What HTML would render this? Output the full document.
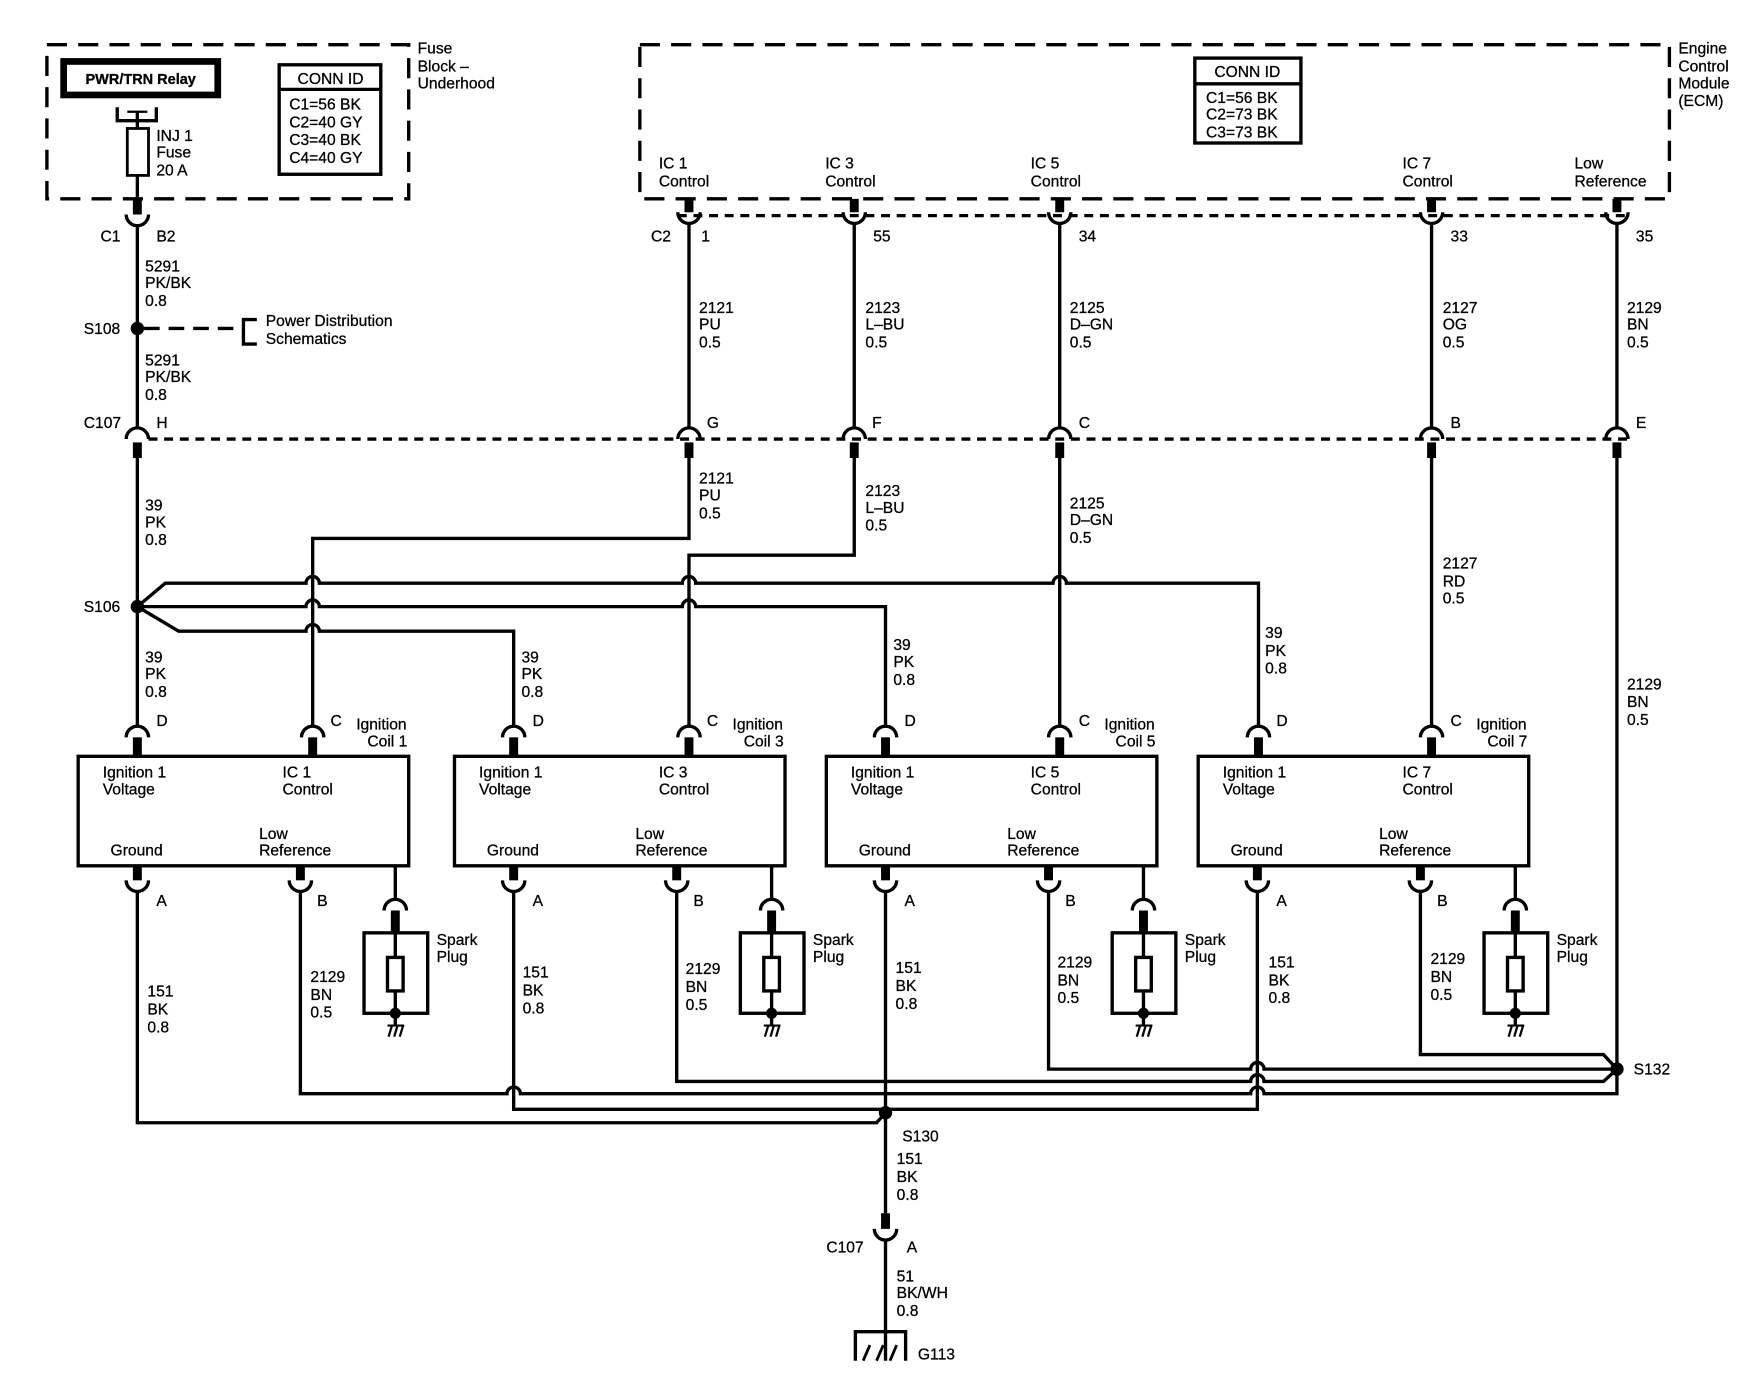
<!DOCTYPE html>
<html><head><meta charset="utf-8"><style>
html,body{margin:0;padding:0;background:#fff;}
svg{display:block}
text{font-family:"Liberation Sans",Arial,sans-serif;font-size:14px;fill:#000;stroke:#000;stroke-width:0.25}
</style></head><body>
<svg width="1742" height="1392" viewBox="0 0 1560 1246" preserveAspectRatio="none" xmlns="http://www.w3.org/2000/svg">
<rect x="0" y="0" width="1560" height="1246" fill="#fff"/>
<g fill="none" stroke="#000" stroke-width="3">
<!-- boxes -->
<rect x="42" y="40" width="324" height="138" stroke-dasharray="18,10"/>
<rect x="573" y="40" width="922" height="138" stroke-dasharray="18,10"/>
<rect x="57" y="55" width="138" height="30" stroke-width="6" fill="#fff"/>
<rect x="250" y="58" width="91" height="98"/><line x1="250" y1="80" x2="341" y2="80"/>
<rect x="1070" y="52" width="95" height="76"/><line x1="1070" y1="75" x2="1165" y2="75"/>
<path d="M105,96 L105,108 L140,108 L140,96"/>
<line x1="114" y1="100" x2="132" y2="100" stroke-width="2"/>
<line x1="123" y1="100" x2="123" y2="178"/>
<rect x="114" y="115" width="19" height="42" fill="#fff" stroke-width="2.5"/>
<!-- dashed rows -->
<line x1="607" y1="193" x2="1458" y2="193" stroke-dasharray="8,6"/>
<line x1="133" y1="393" x2="1458" y2="393" stroke-dasharray="8,6"/>
<line x1="129" y1="294" x2="215" y2="294" stroke-dasharray="14,8"/>
<path d="M230,286 L218,286 L218,308 L230,308"/>
<!-- main vertical -->
<line x1="123" y1="202" x2="123" y2="383"/>
<line x1="123" y1="410" x2="123" y2="650"/>
<!-- ECM wires -->
<line x1="617" y1="200" x2="617" y2="383"/>
<line x1="765" y1="200" x2="765" y2="383"/>
<line x1="949" y1="200" x2="949" y2="383"/>
<line x1="1282" y1="200" x2="1282" y2="383"/>
<line x1="1448" y1="200" x2="1448" y2="383"/>
<path d="M617,410 L617,482 L280,482 L280,650"/>
<path d="M765,410 L765,497 L617,497 L617,650"/>
<line x1="949" y1="410" x2="949" y2="650"/>
<line x1="1282" y1="410" x2="1282" y2="650"/>
<!-- S106 -->
<path d="M123,543 L148,522 L274,522 A6,6 0 0 1 286,522 L611,522 A6,6 0 0 1 623,522 L943,522 A6,6 0 0 1 955,522 L1127,522 L1127,650"/>
<path d="M123,543 L274,543 A6,6 0 0 1 286,543 L611,543 A6,6 0 0 1 623,543 L793,543 L793,650"/>
<path d="M123,543 L160,565 L274,565 A6,6 0 0 1 286,565 L460,565 L460,650"/>
<!-- bottom wiring -->
<path d="M1272,798 L1272,944 L1436,944 L1448,957"/>
<path d="M939,798 L939,957 L1120,957 A6,6 0 0 1 1132,957 L1448,957"/>
<path d="M606,798 L606,968 L1120,968 A6,6 0 0 1 1132,968 L1436,968 L1448,957"/>
<path d="M269,798 L269,979 L454,979 A6,6 0 0 1 466,979 L1120,979 A6,6 0 0 1 1132,979 L1448,979 L1448,410"/>
<path d="M460,798 L460,993 L1126,993 L1126,798"/>
<path d="M123,798 L123,1005 L785,1005 L793,996"/>
<line x1="793" y1="798" x2="793" y2="1086"/>
<line x1="793" y1="1110" x2="793" y2="1218"/>
<path d="M766,1218 L766,1192 L811,1192 L811,1218"/>
<path d="M773,1218 L779,1204 M785,1218 L791,1204 M797,1218 L803,1204" stroke-width="2.5"/>
<!-- top connectors (ECM / C1) -->
<path d="M113,192 A10,10 0 0 0 133,192 M607,190 A10,10 0 0 0 627,190 M755,190 A10,10 0 0 0 775,190 M939,190 A10,10 0 0 0 959,190 M1272,190 A10,10 0 0 0 1292,190 M1438,190 A10,10 0 0 0 1458,190"/>
<!-- C107 connectors -->
<path d="M113,393 A10,10 0 0 1 133,393 M607,393 A10,10 0 0 1 627,393 M755,393 A10,10 0 0 1 775,393 M939,393 A10,10 0 0 1 959,393 M1272,393 A10,10 0 0 1 1292,393 M1438,393 A10,10 0 0 1 1458,393"/>
<path d="M783,1100 A10,10 0 0 0 803,1100"/>
<!-- coils -->
<rect x="70" y="677" width="296" height="98"/>
<rect x="407" y="677" width="296" height="98"/>
<rect x="740" y="677" width="296" height="98"/>
<rect x="1073" y="677" width="296" height="98"/>
<!-- coil top arcs -->
<path d="M113,660 A10,10 0 0 1 133,660 M270,660 A10,10 0 0 1 290,660 M450,660 A10,10 0 0 1 470,660 M607,660 A10,10 0 0 1 627,660 M783,660 A10,10 0 0 1 803,660 M939,660 A10,10 0 0 1 959,660 M1117,660 A10,10 0 0 1 1137,660 M1272,660 A10,10 0 0 1 1292,660"/>
<!-- coil bottom arcs -->
<path d="M113,788 A10,10 0 0 0 133,788 M259,788 A10,10 0 0 0 279,788 M450,788 A10,10 0 0 0 470,788 M596,788 A10,10 0 0 0 616,788 M783,788 A10,10 0 0 0 803,788 M929,788 A10,10 0 0 0 949,788 M1116,788 A10,10 0 0 0 1136,788 M1262,788 A10,10 0 0 0 1282,788"/>
<!-- spark plugs -->
<path d="M354,775 L354,805 M344,815 A10,10 0 0 1 364,815 M354,835 L354,918"/>
<rect x="326" y="835" width="57" height="72"/>
<rect x="347" y="857" width="14" height="30" fill="#fff"/>
<path d="M691,775 L691,805 M681,815 A10,10 0 0 1 701,815 M691,835 L691,918"/>
<rect x="663" y="835" width="57" height="72"/>
<rect x="684" y="857" width="14" height="30" fill="#fff"/>
<path d="M1024,775 L1024,805 M1014,815 A10,10 0 0 1 1034,815 M1024,835 L1024,918"/>
<rect x="996" y="835" width="57" height="72"/>
<rect x="1017" y="857" width="14" height="30" fill="#fff"/>
<path d="M1357,775 L1357,805 M1347,815 A10,10 0 0 1 1367,815 M1357,835 L1357,918"/>
<rect x="1329" y="835" width="57" height="72"/>
<rect x="1350" y="857" width="14" height="30" fill="#fff"/>
<g stroke-width="2">
<path d="M347,918 L362,918 M348,928 L351,918 M353,928 L356,918 M358,928 L361,918"/>
<path d="M684,918 L699,918 M685,928 L688,918 M690,928 L693,918 M695,928 L698,918"/>
<path d="M1017,918 L1032,918 M1018,928 L1021,918 M1023,928 L1026,918 M1028,928 L1031,918"/>
<path d="M1350,918 L1365,918 M1351,928 L1354,918 M1356,928 L1359,918 M1361,928 L1364,918"/>
</g>
</g>
<!-- thick stubs -->
<g fill="#000">
<rect x="119" y="178" width="8" height="14"/>
<rect x="613" y="178" width="8" height="12"/><rect x="761" y="178" width="8" height="12"/><rect x="945" y="178" width="8" height="12"/><rect x="1278" y="178" width="8" height="12"/><rect x="1444" y="178" width="8" height="12"/>
<rect x="119" y="396" width="8" height="14"/><rect x="613" y="396" width="8" height="14"/><rect x="761" y="396" width="8" height="14"/><rect x="945" y="396" width="8" height="14"/><rect x="1278" y="396" width="8" height="14"/><rect x="1444" y="396" width="8" height="14"/>
<rect x="789" y="1086" width="8" height="14"/>
<rect x="119" y="660" width="8" height="17"/><rect x="276" y="660" width="8" height="17"/><rect x="456" y="660" width="8" height="17"/><rect x="613" y="660" width="8" height="17"/><rect x="789" y="660" width="8" height="17"/><rect x="945" y="660" width="8" height="17"/><rect x="1123" y="660" width="8" height="17"/><rect x="1278" y="660" width="8" height="17"/>
<rect x="119" y="775" width="8" height="13"/><rect x="265" y="775" width="8" height="13"/><rect x="456" y="775" width="8" height="13"/><rect x="602" y="775" width="8" height="13"/><rect x="789" y="775" width="8" height="13"/><rect x="935" y="775" width="8" height="13"/><rect x="1122" y="775" width="8" height="13"/><rect x="1268" y="775" width="8" height="13"/>
<rect x="350" y="815" width="8" height="20"/><rect x="687" y="815" width="8" height="20"/><rect x="1020" y="815" width="8" height="20"/><rect x="1353" y="815" width="8" height="20"/>
<circle cx="354" cy="907" r="5"/><circle cx="691" cy="907" r="5"/><circle cx="1024" cy="907" r="5"/><circle cx="1357" cy="907" r="5"/>
<circle cx="123" cy="294" r="6"/><circle cx="123" cy="543" r="6"/><circle cx="793" cy="996" r="6"/><circle cx="1448" cy="957" r="6"/>
</g>
<!-- text -->
<text x="126" y="75" text-anchor="middle" font-weight="bold" style="font-size:13px">PWR/TRN Relay</text>
<text x="140" y="126">INJ 1</text><text x="140" y="141">Fuse</text><text x="140" y="157">20 A</text>
<text x="296" y="75" text-anchor="middle">CONN ID</text>
<text x="259" y="98">C1=56 BK</text><text x="259" y="114">C2=40 GY</text><text x="259" y="130">C3=40 BK</text><text x="259" y="146">C4=40 GY</text>
<text x="374" y="48">Fuse</text><text x="374" y="64">Block –</text><text x="374" y="79">Underhood</text>
<text x="1117" y="69" text-anchor="middle">CONN ID</text>
<text x="1080" y="92">C1=56 BK</text><text x="1080" y="107">C2=73 BK</text><text x="1080" y="123">C3=73 BK</text>
<text x="1503" y="48">Engine</text><text x="1503" y="64">Control</text><text x="1503" y="79">Module</text><text x="1503" y="95">(ECM)</text>
<text x="590" y="151">IC 1</text><text x="590" y="167">Control</text>
<text x="739" y="151">IC 3</text><text x="739" y="167">Control</text>
<text x="923" y="151">IC 5</text><text x="923" y="167">Control</text>
<text x="1256" y="151">IC 7</text><text x="1256" y="167">Control</text>
<text x="1410" y="151">Low</text><text x="1410" y="167">Reference</text>
<text x="90" y="216">C1</text><text x="140" y="216">B2</text>
<text x="583" y="216">C2</text><text x="628" y="216">1</text><text x="782" y="216">55</text><text x="966" y="216">34</text><text x="1299" y="216">33</text><text x="1465" y="216">35</text>
<text x="130" y="243">5291</text><text x="130" y="258">PK/BK</text><text x="130" y="274">0.8</text>
<text x="75" y="299">S108</text>
<text x="238" y="292">Power Distribution</text><text x="238" y="308">Schematics</text>
<text x="130" y="327">5291</text><text x="130" y="342">PK/BK</text><text x="130" y="358">0.8</text>
<text x="626" y="280">2121</text><text x="626" y="295">PU</text><text x="626" y="311">0.5</text>
<text x="775" y="280">2123</text><text x="775" y="295">L–BU</text><text x="775" y="311">0.5</text>
<text x="958" y="280">2125</text><text x="958" y="295">D–GN</text><text x="958" y="311">0.5</text>
<text x="1292" y="280">2127</text><text x="1292" y="295">OG</text><text x="1292" y="311">0.5</text>
<text x="1457" y="280">2129</text><text x="1457" y="295">BN</text><text x="1457" y="311">0.5</text>
<text x="75" y="383">C107</text><text x="140" y="383">H</text><text x="633" y="383">G</text><text x="781" y="383">F</text><text x="966" y="383">C</text><text x="1299" y="383">B</text><text x="1465" y="383">E</text>
<text x="626" y="433">2121</text><text x="626" y="448">PU</text><text x="626" y="464">0.5</text>
<text x="775" y="444">2123</text><text x="775" y="459">L–BU</text><text x="775" y="475">0.5</text>
<text x="958" y="455">2125</text><text x="958" y="470">D–GN</text><text x="958" y="486">0.5</text>
<text x="1292" y="509">2127</text><text x="1292" y="525">RD</text><text x="1292" y="540">0.5</text>
<text x="130" y="457">39</text><text x="130" y="472">PK</text><text x="130" y="488">0.8</text>
<text x="75" y="548">S106</text>
<text x="130" y="593">39</text><text x="130" y="608">PK</text><text x="130" y="624">0.8</text>
<text x="467" y="593">39</text><text x="467" y="608">PK</text><text x="467" y="624">0.8</text>
<text x="800" y="582">39</text><text x="800" y="597">PK</text><text x="800" y="613">0.8</text>
<text x="1133" y="571">39</text><text x="1133" y="587">PK</text><text x="1133" y="603">0.8</text>
<text x="1457" y="617">2129</text><text x="1457" y="633">BN</text><text x="1457" y="649">0.5</text>
<!-- coil 1 -->
<text x="140" y="650">D</text><text x="296" y="650">C</text><text x="319" y="653">Ignition</text><text x="329" y="668">Coil 1</text>
<text x="92" y="696">Ignition 1</text><text x="92" y="711">Voltage</text><text x="253" y="696">IC 1</text><text x="253" y="711">Control</text>
<text x="232" y="751">Low</text><text x="99" y="766">Ground</text><text x="232" y="766">Reference</text>
<text x="140" y="811">A</text><text x="284" y="811">B</text><text x="391" y="846">Spark</text><text x="391" y="861">Plug</text>
<text x="132" y="892">151</text><text x="132" y="908">BK</text><text x="132" y="924">0.8</text>
<text x="278" y="879">2129</text><text x="278" y="895">BN</text><text x="278" y="911">0.5</text>
<!-- coil 3 -->
<text x="477" y="650">D</text><text x="633" y="650">C</text><text x="656" y="653">Ignition</text><text x="666" y="668">Coil 3</text>
<text x="429" y="696">Ignition 1</text><text x="429" y="711">Voltage</text><text x="590" y="696">IC 3</text><text x="590" y="711">Control</text>
<text x="569" y="751">Low</text><text x="436" y="766">Ground</text><text x="569" y="766">Reference</text>
<text x="477" y="811">A</text><text x="621" y="811">B</text><text x="728" y="846">Spark</text><text x="728" y="861">Plug</text>
<text x="468" y="875">151</text><text x="468" y="891">BK</text><text x="468" y="907">0.8</text>
<text x="614" y="872">2129</text><text x="614" y="888">BN</text><text x="614" y="904">0.5</text>
<!-- coil 5 -->
<text x="810" y="650">D</text><text x="966" y="650">C</text><text x="989" y="653">Ignition</text><text x="999" y="668">Coil 5</text>
<text x="762" y="696">Ignition 1</text><text x="762" y="711">Voltage</text><text x="923" y="696">IC 5</text><text x="923" y="711">Control</text>
<text x="902" y="751">Low</text><text x="769" y="766">Ground</text><text x="902" y="766">Reference</text>
<text x="810" y="811">A</text><text x="954" y="811">B</text><text x="1061" y="846">Spark</text><text x="1061" y="861">Plug</text>
<text x="802" y="871">151</text><text x="802" y="887">BK</text><text x="802" y="903">0.8</text>
<text x="947" y="866">2129</text><text x="947" y="882">BN</text><text x="947" y="898">0.5</text>
<!-- coil 7 -->
<text x="1143" y="650">D</text><text x="1299" y="650">C</text><text x="1322" y="653">Ignition</text><text x="1332" y="668">Coil 7</text>
<text x="1095" y="696">Ignition 1</text><text x="1095" y="711">Voltage</text><text x="1256" y="696">IC 7</text><text x="1256" y="711">Control</text>
<text x="1235" y="751">Low</text><text x="1102" y="766">Ground</text><text x="1235" y="766">Reference</text>
<text x="1143" y="811">A</text><text x="1287" y="811">B</text><text x="1394" y="846">Spark</text><text x="1394" y="861">Plug</text>
<text x="1136" y="866">151</text><text x="1136" y="882">BK</text><text x="1136" y="898">0.8</text>
<text x="1281" y="863">2129</text><text x="1281" y="879">BN</text><text x="1281" y="895">0.5</text>
<!-- bottom -->
<text x="1463" y="962">S132</text>
<text x="808" y="1022">S130</text>
<text x="803" y="1042">151</text><text x="803" y="1058">BK</text><text x="803" y="1074">0.8</text>
<text x="740" y="1121">C107</text><text x="812" y="1121">A</text>
<text x="803" y="1147">51</text><text x="803" y="1162">BK/WH</text><text x="803" y="1178">0.8</text>
<text x="822" y="1217">G113</text>
</svg>
</body></html>
